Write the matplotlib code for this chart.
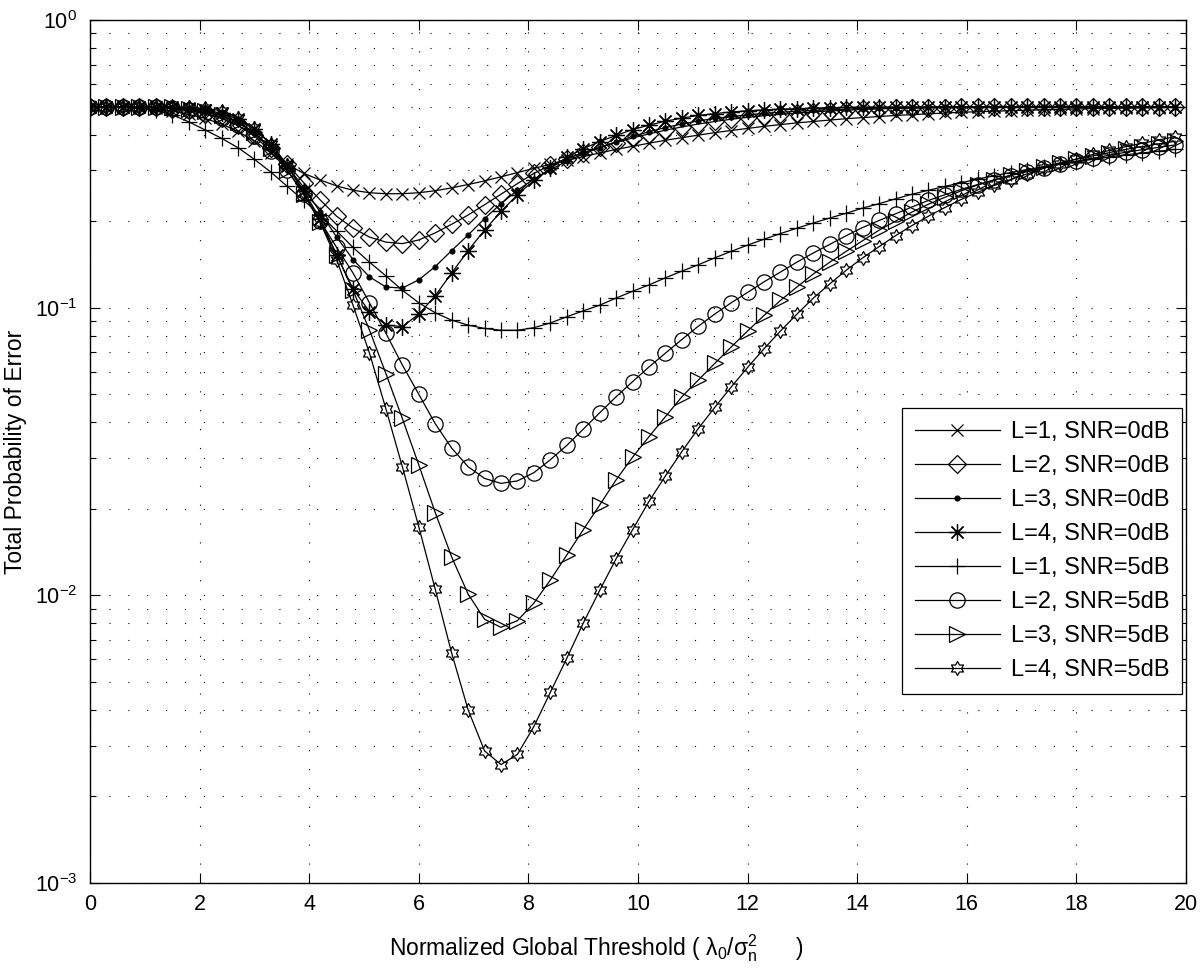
import numpy as np
import matplotlib
matplotlib.use('Agg')
import matplotlib.pyplot as plt
from matplotlib.path import Path
from matplotlib.ticker import LogLocator, NullFormatter, FixedLocator

plt.rcParams['font.family'] = ['Liberation Sans', 'DejaVu Sans']
plt.rcParams['mathtext.fontset'] = 'custom'
plt.rcParams['mathtext.rm'] = 'Liberation Sans'
plt.rcParams['mathtext.it'] = 'Liberation Sans'
plt.rcParams['mathtext.bf'] = 'Liberation Sans:bold'
plt.rcParams['mathtext.default'] = 'regular'

# ---------------- data ----------------
threshold = [0.0, 0.3, 0.6, 0.9, 1.2, 1.5, 1.8, 2.1, 2.4, 2.7,
             3.0, 3.3, 3.6, 3.9, 4.2, 4.5, 4.8, 5.1, 5.4, 5.7,
             6.0, 6.3, 6.6, 6.9, 7.2, 7.5, 7.8, 8.1, 8.4, 8.7,
             9.0, 9.3, 9.6, 9.9, 10.2, 10.5, 10.8, 11.1, 11.4, 11.7,
             12.0, 12.3, 12.6, 12.9, 13.2, 13.5, 13.8, 14.1, 14.4, 14.7,
             15.0, 15.3, 15.6, 15.9, 16.2, 16.5, 16.8, 17.1, 17.4, 17.7,
             18.0, 18.3, 18.6, 18.9, 19.2, 19.5, 19.8]

pe_L1_0dB = [0.5, 0.5, 0.5, 0.498, 0.493, 0.483, 0.47, 0.455, 0.435, 0.41,
             0.38, 0.345, 0.315, 0.293, 0.278, 0.265, 0.256, 0.251, 0.249, 0.249,
             0.251, 0.255, 0.261, 0.268, 0.276, 0.285, 0.295, 0.305, 0.315, 0.325,
             0.335, 0.345, 0.355, 0.364, 0.373, 0.382, 0.39, 0.398, 0.406, 0.413,
             0.42, 0.427, 0.433, 0.439, 0.444, 0.449, 0.454, 0.458, 0.462, 0.466,
             0.469, 0.472, 0.475, 0.478, 0.48, 0.482, 0.484, 0.486, 0.488, 0.489,
             0.491, 0.492, 0.493, 0.494, 0.495, 0.496, 0.497]

pe_L2_0dB = [0.5, 0.5, 0.5, 0.5, 0.497, 0.492, 0.485, 0.472, 0.455, 0.43,
             0.40, 0.36, 0.315, 0.272, 0.237, 0.208, 0.189, 0.176, 0.169, 0.167,
             0.172, 0.182, 0.195, 0.21, 0.228, 0.248, 0.27, 0.293, 0.313, 0.33,
             0.346, 0.361, 0.375, 0.389, 0.402, 0.414, 0.425, 0.435, 0.444, 0.452,
             0.459, 0.465, 0.47, 0.475, 0.479, 0.483, 0.486, 0.489, 0.491, 0.493,
             0.494, 0.495, 0.496, 0.497, 0.497, 0.498, 0.498, 0.498, 0.499, 0.499,
             0.499, 0.499, 0.499, 0.5, 0.5, 0.5, 0.5]

pe_L3_0dB = [0.5, 0.5, 0.5, 0.5, 0.499, 0.496, 0.49, 0.48, 0.465, 0.44,
             0.405, 0.36, 0.31, 0.262, 0.215, 0.176, 0.147, 0.128, 0.118, 0.117,
             0.125, 0.139, 0.158, 0.179, 0.204, 0.23, 0.256, 0.28, 0.302, 0.323,
             0.342, 0.36, 0.378, 0.394, 0.409, 0.423, 0.435, 0.446, 0.455, 0.462,
             0.468, 0.474, 0.478, 0.482, 0.485, 0.488, 0.49, 0.492, 0.494, 0.495,
             0.496, 0.497, 0.498, 0.498, 0.499, 0.499, 0.499, 0.5, 0.5, 0.5,
             0.5, 0.5, 0.5, 0.5, 0.5, 0.5, 0.5]

pe_L4_0dB = [0.5, 0.5, 0.5, 0.5, 0.5, 0.498, 0.494, 0.487, 0.474, 0.452,
             0.418, 0.37, 0.312, 0.255, 0.203, 0.153, 0.116, 0.097, 0.087, 0.086,
             0.095, 0.11, 0.132, 0.158, 0.186, 0.216, 0.247, 0.277, 0.305, 0.333,
             0.357, 0.378, 0.397, 0.416, 0.431, 0.445, 0.456, 0.466, 0.473, 0.479,
             0.484, 0.487, 0.49, 0.492, 0.494, 0.496, 0.497, 0.498, 0.498, 0.499,
             0.499, 0.499, 0.5, 0.5, 0.5, 0.5, 0.5, 0.5, 0.5, 0.5,
             0.5, 0.5, 0.5, 0.5, 0.5, 0.5, 0.5]

pe_L1_5dB = [0.5, 0.5, 0.499, 0.496, 0.486, 0.468, 0.443, 0.415, 0.388, 0.36,
             0.328, 0.296, 0.264, 0.236, 0.21, 0.185, 0.162, 0.144, 0.129, 0.115,
             0.104, 0.096, 0.0905, 0.087, 0.0847, 0.0835, 0.0835, 0.0852, 0.0885, 0.093,
             0.0975, 0.102, 0.108, 0.114, 0.12, 0.127, 0.134, 0.141, 0.149, 0.157,
             0.165, 0.173, 0.181, 0.189, 0.197, 0.205, 0.213, 0.222, 0.23, 0.239,
             0.248, 0.256, 0.264, 0.272, 0.28, 0.288, 0.295, 0.302, 0.309, 0.316,
             0.322, 0.328, 0.334, 0.34, 0.345, 0.35, 0.355]

pe_L2_5dB = [0.5, 0.5, 0.5, 0.5, 0.498, 0.494, 0.487, 0.475, 0.457, 0.43,
             0.395, 0.35, 0.3, 0.248, 0.2, 0.162, 0.132, 0.104, 0.0815, 0.0632,
             0.05, 0.0395, 0.0325, 0.028, 0.0255, 0.0245, 0.025, 0.0267, 0.0296, 0.0332,
             0.0378, 0.0431, 0.049, 0.0553, 0.0622, 0.0695, 0.0775, 0.0862, 0.095, 0.104,
             0.113, 0.123, 0.133, 0.144, 0.155, 0.166, 0.178, 0.19, 0.201, 0.212,
             0.224, 0.236, 0.247, 0.258, 0.268, 0.278, 0.288, 0.297, 0.306, 0.315,
             0.323, 0.331, 0.339, 0.347, 0.354, 0.361, 0.368]

pe_L3_5dB = [0.5, 0.5, 0.5, 0.5, 0.499, 0.497, 0.492, 0.483, 0.468, 0.443,
             0.407, 0.358, 0.302, 0.248, 0.198, 0.153, 0.115, 0.0836, 0.059, 0.0412,
             0.0284, 0.0194, 0.0136, 0.0101, 0.00826, 0.00774, 0.00817, 0.0094, 0.0113, 0.0138,
             0.0169, 0.0206, 0.0252, 0.0302, 0.0356, 0.0418, 0.049, 0.056, 0.064, 0.073,
             0.083, 0.094, 0.106, 0.118, 0.131, 0.144, 0.157, 0.171, 0.186, 0.2,
             0.215, 0.229, 0.242, 0.255, 0.267, 0.278, 0.289, 0.299, 0.309, 0.319,
             0.328, 0.337, 0.346, 0.355, 0.363, 0.371, 0.379]

pe_L4_5dB = [0.5, 0.5, 0.5, 0.5, 0.5, 0.499, 0.497, 0.493, 0.484, 0.458,
             0.42, 0.372, 0.313, 0.25, 0.198, 0.147, 0.102, 0.0695, 0.0445, 0.028,
             0.0173, 0.0105, 0.0063, 0.0040, 0.00288, 0.00258, 0.0028, 0.0035, 0.0046, 0.00604,
             0.008, 0.0104, 0.0134, 0.0169, 0.0212, 0.026, 0.0316, 0.038, 0.045, 0.053,
             0.062, 0.072, 0.083, 0.095, 0.108, 0.121, 0.135, 0.149, 0.163, 0.178,
             0.193, 0.208, 0.223, 0.238, 0.252, 0.266, 0.279, 0.292, 0.305, 0.317,
             0.329, 0.341, 0.352, 0.363, 0.373, 0.383, 0.393]

labels = ['L=1, SNR=0dB', 'L=2, SNR=0dB', 'L=3, SNR=0dB', 'L=4, SNR=0dB',
          'L=1, SNR=5dB', 'L=2, SNR=5dB', 'L=3, SNR=5dB', 'L=4, SNR=5dB']
series = [pe_L1_0dB, pe_L2_0dB, pe_L3_0dB, pe_L4_0dB,
          pe_L1_5dB, pe_L2_5dB, pe_L3_5dB, pe_L4_5dB]
xticks = [0, 2, 4, 6, 8, 10, 12, 14, 16, 18, 20]

# ---------------- markers ----------------
ang = np.deg2rad(90 + 30 * np.arange(12))
rad = np.where(np.arange(12) % 2 == 0, 1.0, 0.577)
hex_verts = np.column_stack([rad * np.cos(ang), rad * np.sin(ang)])
hex_verts = np.vstack([hex_verts, hex_verts[:1]])
hex_codes = [Path.MOVETO] + [Path.LINETO] * 11 + [Path.CLOSEPOLY]
hexagram = Path(hex_verts, hex_codes)

styles = [
    dict(marker='x', ms=9),
    dict(marker='D', ms=9.5),
    dict(marker='o', ms=3.5, mfc='k'),
    dict(marker=(8, 2, 0), ms=12),
    dict(marker='+', ms=12),
    dict(marker='o', ms=11),
    dict(marker='>', ms=11),
    dict(marker=hexagram, ms=10),
]

fig = plt.figure(figsize=(12, 9.68), dpi=100)
ax = fig.add_axes([0.075, 0.0878, 0.91333, 0.8915])

for y, lab, st in zip(series, labels, styles):
    kw = dict(color='k', lw=0.9, mec='k', mew=0.9, mfc='none')
    kw.update(st)
    ax.plot(threshold, y, label=lab, **kw)

ax.set_yscale('log')
ax.set_xlim(0, 20)
ax.set_ylim(1e-3, 1)
ax.xaxis.set_major_locator(FixedLocator(xticks))
ax.yaxis.set_major_locator(LogLocator(base=10, numticks=10))
ax.yaxis.set_minor_locator(LogLocator(base=10, subs=np.arange(2, 10), numticks=20))
ax.yaxis.set_minor_formatter(NullFormatter())

dots = (0, (1, 16))
ax.grid(True, which='major', axis='both', color='k', lw=0.8, linestyle=dots)
ax.yaxis.grid(True, which='minor', color='k', lw=0.8, linestyle=dots)

ax.tick_params(which='both', direction='in', top=True, right=True, width=0.8)
ax.tick_params(which='major', length=7, labelsize=15.5, pad=8)
ax.tick_params(axis='y', which='major', pad=9)
ax.tick_params(which='minor', length=4)
for s in ax.spines.values():
    s.set_linewidth(1.0)

ax.set_xlabel('Normalized Global Threshold ( $\\lambda_0$/$\\sigma_n^2$      )', fontsize=16.5)
ax.xaxis.set_label_coords(0.4617, -0.057)
ax.set_ylabel('Total Probability of Error', fontsize=16.5, va='center')
ax.yaxis.set_label_coords(-0.0684, 0.5)

leg = ax.legend(loc='upper right', bbox_to_anchor=(0.9964, 0.5504), borderaxespad=0,
                fancybox=False, edgecolor='k', framealpha=1, fontsize=17,
                handlelength=3.6, labelspacing=0.51, borderpad=0.55, handletextpad=0.45)
leg.get_frame().set_linewidth(0.9)

fig.savefig('out.png', dpi=100)
